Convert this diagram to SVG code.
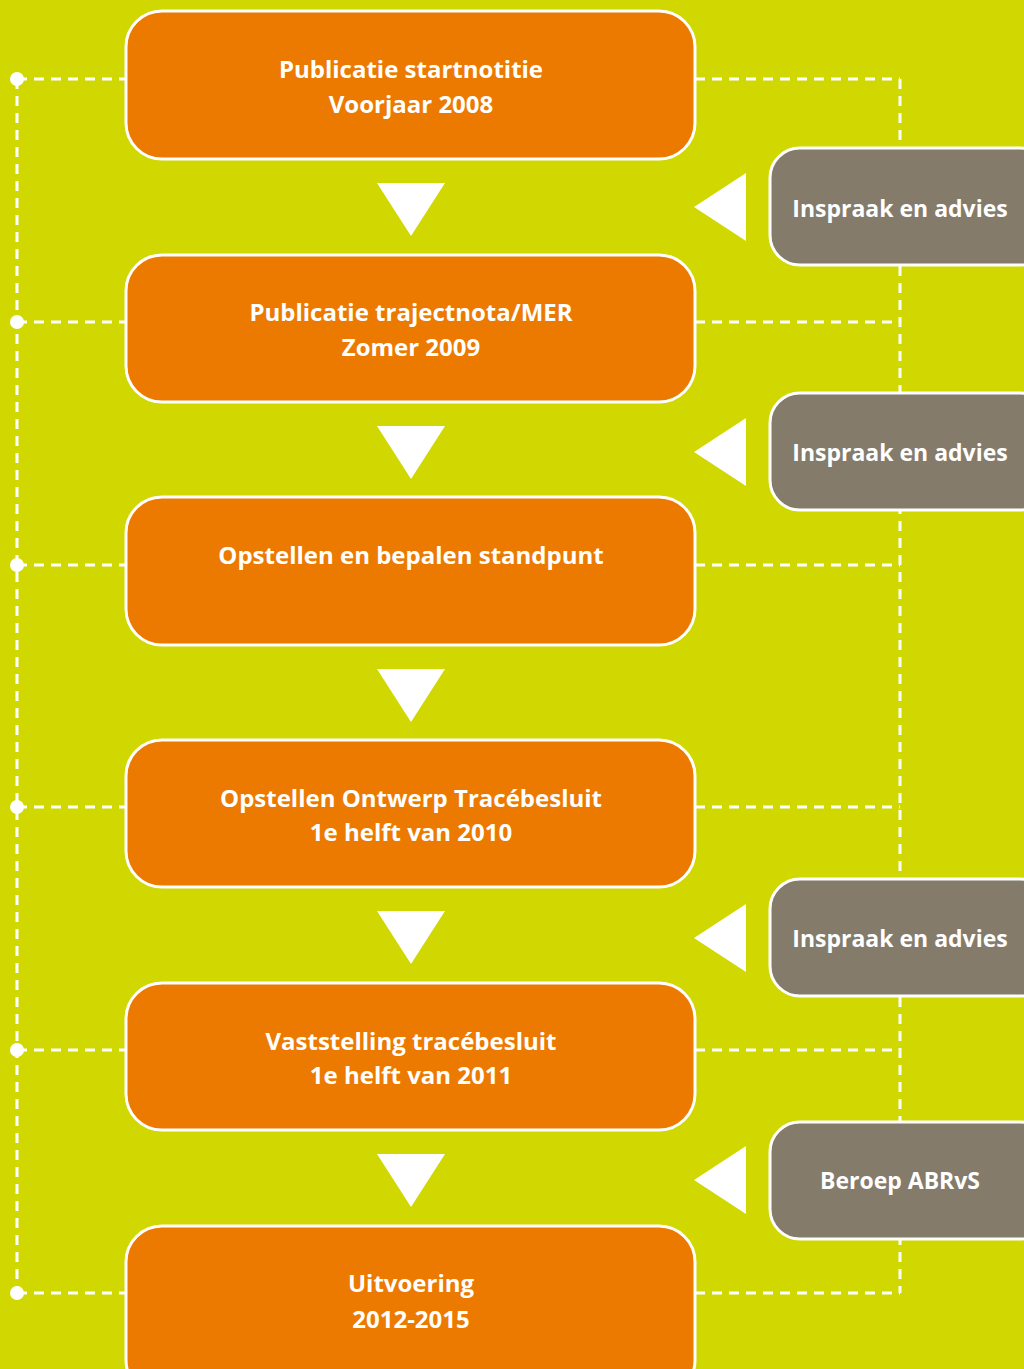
<svg xmlns="http://www.w3.org/2000/svg" width="1024" height="1369" viewBox="0 0 1024 1369">
  <style>
    .step { fill: #ed7a00; stroke: #ffffff; stroke-width: 3; }
    .side { fill: #847b6b; stroke: #ffffff; stroke-width: 3; }
    .lbl { font-family: "Open Sans", "Liberation Sans", sans-serif; font-weight: 700; font-size: 24px; fill: #ffffff; text-anchor: middle; }
    .side-lbl { font-size: 23px; }
    .dash { fill: none; stroke: #ffffff; stroke-width: 3; stroke-dasharray: 10 7; }
    .arrow { fill: #ffffff; }
  </style>
  <rect width="1024" height="1369" fill="#d1d700"/>

  <!-- timeline and feedback connectors -->
  <g id="connectors">
    <path class="dash" d="M17 79 V1293"/>
    <path class="dash" d="M900 79 V1293"/>
    <path class="dash" d="M17 79 H126 M17 322 H126 M17 565 H126 M17 807 H126 M17 1050 H126 M17 1293 H126"/>
    <path class="dash" d="M695 79 H900 M695 322 H900 M695 565 H900 M695 807 H900 M695 1050 H900 M695 1293 H900"/>
    <g fill="#ffffff">
      <circle cx="17" cy="79" r="7"/>
      <circle cx="17" cy="322" r="7"/>
      <circle cx="17" cy="565" r="7"/>
      <circle cx="17" cy="807" r="7"/>
      <circle cx="17" cy="1050" r="7"/>
      <circle cx="17" cy="1293" r="7"/>
    </g>
    <!-- downward flow arrows -->
    <polygon class="arrow" points="377,183 445,183 411,236"/>
    <polygon class="arrow" points="377,426 445,426 411,479"/>
    <polygon class="arrow" points="377,669 445,669 411,722"/>
    <polygon class="arrow" points="377,911 445,911 411,964"/>
    <polygon class="arrow" points="377,1154 445,1154 411,1207"/>
    <!-- side input arrows -->
    <polygon class="arrow" points="694,207 746,173 746,241"/>
    <polygon class="arrow" points="694,452 746,418 746,486"/>
    <polygon class="arrow" points="694,938 746,904 746,972"/>
    <polygon class="arrow" points="694,1180 746,1146 746,1214"/>
  </g>

  <g id="step1">
    <rect class="step" x="126" y="11" width="569" height="148" rx="36"/>
    <text class="lbl" x="411" y="78">Publicatie startnotitie</text>
    <text class="lbl" x="411" y="113">Voorjaar 2008</text>
  </g>
  <g id="step2">
    <rect class="step" x="126" y="255" width="569" height="147" rx="36"/>
    <text class="lbl" x="411" y="321">Publicatie trajectnota/MER</text>
    <text class="lbl" x="411" y="356">Zomer 2009</text>
  </g>
  <g id="step3">
    <rect class="step" x="126" y="497" width="569" height="148" rx="36"/>
    <text class="lbl" x="411" y="564">Opstellen en bepalen standpunt</text>
  </g>
  <g id="step4">
    <rect class="step" x="126" y="740" width="569" height="147" rx="36"/>
    <text class="lbl" x="411" y="807">Opstellen Ontwerp Tracébesluit</text>
    <text class="lbl" x="411" y="841">1e helft van 2010</text>
  </g>
  <g id="step5">
    <rect class="step" x="126" y="983" width="569" height="147" rx="36"/>
    <text class="lbl" x="411" y="1050">Vaststelling tracébesluit</text>
    <text class="lbl" x="411" y="1084">1e helft van 2011</text>
  </g>
  <g id="step6">
    <rect class="step" x="126" y="1226" width="569" height="170" rx="36"/>
    <text class="lbl" x="411" y="1292">Uitvoering</text>
    <text class="lbl" x="411" y="1328">2012-2015</text>
  </g>

  <g id="input1">
    <rect class="side" x="770" y="148" width="280" height="117" rx="30"/>
    <text class="lbl side-lbl" x="900" y="217">Inspraak en advies</text>
  </g>
  <g id="input2">
    <rect class="side" x="770" y="393" width="280" height="117" rx="30"/>
    <text class="lbl side-lbl" x="900" y="461">Inspraak en advies</text>
  </g>
  <g id="input3">
    <rect class="side" x="770" y="879" width="280" height="117" rx="30"/>
    <text class="lbl side-lbl" x="900" y="947">Inspraak en advies</text>
  </g>
  <g id="input4">
    <rect class="side" x="770" y="1122" width="280" height="117" rx="30"/>
    <text class="lbl side-lbl" x="900" y="1189">Beroep ABRvS</text>
  </g>
</svg>
